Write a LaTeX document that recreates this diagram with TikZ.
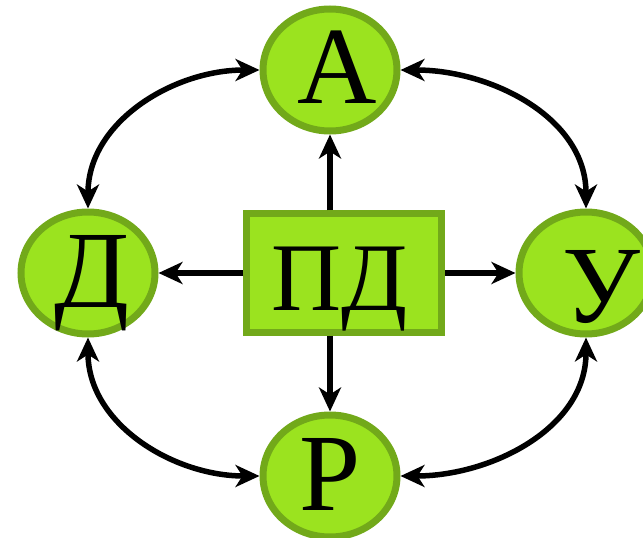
\documentclass[tikz,border=0pt]{standalone}
\usepackage{fontspec}
\setmainfont{Liberation Serif}
\usetikzlibrary{shapes.geometric,arrows.meta}
\definecolor{leaf}{HTML}{9BE31F}
\definecolor{leafedge}{HTML}{72A91A}
\tikzset{
  oval/.style={ellipse, draw=leafedge, fill=leaf, line width=7pt,
    minimum width=134pt, minimum height=122pt, inner sep=0pt},
  core/.style={rectangle, draw=leafedge, fill=leaf, line width=6.5pt,
    minimum width=195pt, minimum height=119pt, inner sep=0pt},
  big/.style={anchor=base, inner sep=0pt, font=\fontsize{110}{110}\selectfont},
  mid/.style={anchor=base, inner sep=0pt, font=\fontsize{97}{97}\selectfont},
  link/.style={line width=5.5pt, draw=black, {Stealth[length=24pt,width=22pt,inset=7pt]}-{Stealth[length=24pt,width=22pt,inset=7pt]}},
  ray/.style={line width=5.5pt, draw=black, -{Stealth[length=24pt,width=22pt,inset=7pt]}}
}
\begin{document}
\begin{tikzpicture}[x=1pt,y=-1pt]
  \useasboundingbox (0,0) rectangle (643,538);
  \clip (0,0) rectangle (643,538);
  % four outer ovals and the central box
  \node[oval] (A) at (330,70) {};
  \node[oval] (D) at (88,273) {};
  \node[oval] (U) at (586,273) {};
  \node[oval] (R) at (330,476) {};
  \node[core] (PD) at (344,273) {};
  % letters
  \node[big] (tA) at (337,103) {А};
  \node[big] (tD) at (92,307) {Д};
  \node[big] (tU) at (601,322) {У};
  \node[big] (tR) at (330,510) {Р};
  \node[mid] (tPD) at (340,310) {ПД};
  % rays from the central box
  \draw[ray] (PD.north -| A.south) -- (A.south);
  \draw[ray] (PD.south -| R.north) -- (R.north);
  \draw[ray] (PD.west) -- (D.east);
  \draw[ray] (PD.east) -- (U.west);
  % curved two-way links around the ring
  \draw[link] (A.west) to[out=180,in=90] (D.north);
  \draw[link] (A.east) to[out=0,in=90] (U.north);
  \draw[link] (D.south) to[out=-90,in=180] (R.west);
  \draw[link] (U.south) to[out=-90,in=0] (R.east);
\end{tikzpicture}
\end{document}
